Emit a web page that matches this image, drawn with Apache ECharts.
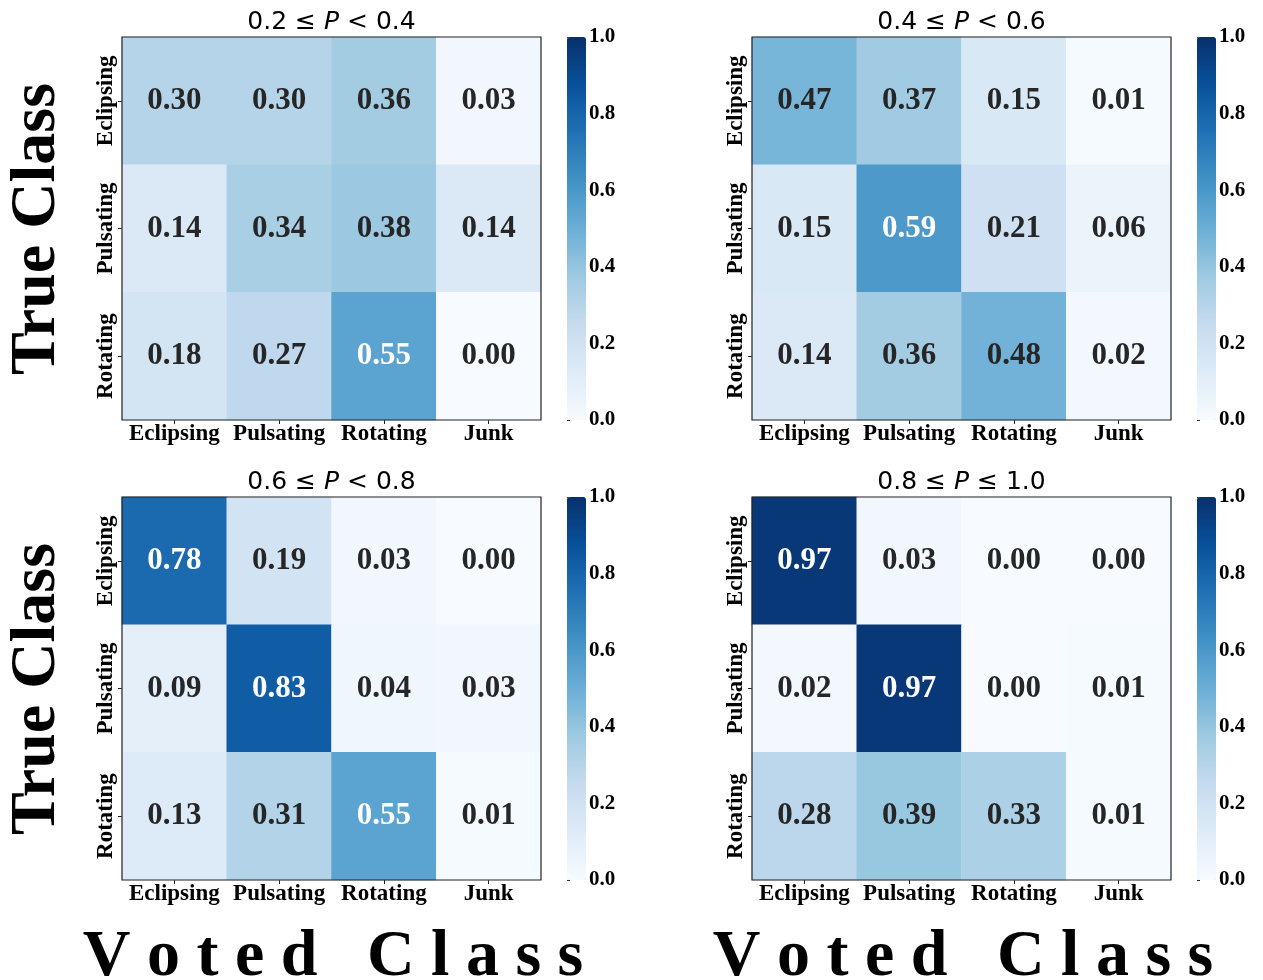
<!DOCTYPE html>
<html>
<head>
<meta charset="utf-8">
<script src="https://cdn.jsdelivr.net/npm/echarts@6/dist/echarts.min.js"></script>
<style>
html,body{margin:0;padding:0;background:#fff;}
#chart{width:1263px;height:980px;}
</style>
</head>
<body>
<div id="chart"></div>
<script>
// ---- data ----
const votedClasses = ['Eclipsing', 'Pulsating', 'Rotating', 'Junk'];
const trueClasses = ['Eclipsing', 'Pulsating', 'Rotating'];
const panelTitles = [
  ['0.2 ≤ ', 'P', ' < 0.4'],
  ['0.4 ≤ ', 'P', ' < 0.6'],
  ['0.6 ≤ ', 'P', ' < 0.8'],
  ['0.8 ≤ ', 'P', ' ≤ 1.0']
];
const matrixP02 = [
  [0.30, 0.30, 0.36, 0.03],
  [0.14, 0.34, 0.38, 0.14],
  [0.18, 0.27, 0.55, 0.00]
];
const matrixP04 = [
  [0.47, 0.37, 0.15, 0.01],
  [0.15, 0.59, 0.21, 0.06],
  [0.14, 0.36, 0.48, 0.02]
];
const matrixP06 = [
  [0.78, 0.19, 0.03, 0.00],
  [0.09, 0.83, 0.04, 0.03],
  [0.13, 0.31, 0.55, 0.01]
];
const matrixP08 = [
  [0.97, 0.03, 0.00, 0.00],
  [0.02, 0.97, 0.00, 0.01],
  [0.28, 0.39, 0.33, 0.01]
];
const colorbarTicks = [0, 0.2, 0.4, 0.6, 0.8, 1.0];

// ---- style / layout ----
const matrices = [matrixP02, matrixP04, matrixP06, matrixP08];
const BLUES = ['#f7fbff','#deebf7','#c6dbef','#9ecae1','#6baed6','#4292c6','#2171b5','#08519c','#08306b'];
const SERIF = '"Liberation Serif", "Times New Roman", serif';
const layout = [
  {left: 122, top: 37},
  {left: 752, top: 37},
  {left: 122, top: 497},
  {left: 752, top: 497}
];
const GW = 419, GH = 383;
const CB_OFF = 445, CB_W = 19;

const grid = [], xAxis = [], yAxis = [], series = [], visualMap = [], title = [];
layout.forEach((p, i) => {
  grid.push({left: p.left, top: p.top, width: GW, height: GH, show: true, z: 5, borderColor: '#222', borderWidth: 1.2, backgroundColor: 'transparent'});
  xAxis.push({
    type: 'category', gridIndex: i, data: votedClasses, position: 'bottom',
    axisLine: {show: false}, splitLine: {show: false},
    axisTick: {show: true, length: 4, alignWithLabel: true, lineStyle: {color: '#222'}},
    axisLabel: {fontFamily: SERIF, fontWeight: 'bold', fontSize: 23, color: '#000', margin: 3, interval: 0}
  });
  yAxis.push({
    type: 'category', gridIndex: i, data: trueClasses, inverse: true,
    axisLine: {show: false}, splitLine: {show: false},
    axisTick: {show: true, length: 4, alignWithLabel: true, lineStyle: {color: '#222'}},
    axisLabel: {fontFamily: SERIF, fontWeight: 'bold', fontSize: 23, color: '#000', rotate: 90, margin: 4}
  });
  const data = [];
  matrices[i].forEach((row, r) => row.forEach((v, c) => {
    data.push({value: [c, r, v], label: {color: v > 0.5 ? '#ffffff' : '#262626'}});
  }));
  series.push({
    type: 'heatmap', xAxisIndex: i, yAxisIndex: i, data: data,
    itemStyle: {borderWidth: 0},
    emphasis: {disabled: true},
    label: {show: true, fontFamily: SERIF, fontWeight: 'bold', fontSize: 31,
      formatter: (o) => o.value[2].toFixed(2)}
  });
  visualMap.push({
    type: 'continuous', min: 0, max: 1, seriesIndex: i, orient: 'vertical',
    left: p.left + CB_OFF, top: p.top, itemWidth: CB_W, itemHeight: GH, padding: 0,
    calculable: false, hoverLink: false, text: null, showLabel: false,
    inRange: {color: BLUES}
  });
  const t = panelTitles[i];
  title.push({
    text: '{a|' + t[0] + '}{i|' + t[1] + '}{a|' + t[2] + '}',
    left: p.left + GW / 2, top: p.top - 27, textAlign: 'center',
    padding: 0,
    textStyle: {fontWeight: 'normal', rich: {
      a: {fontFamily: '"DejaVu Sans", sans-serif', fontSize: 25, fontWeight: 'normal', color: '#000'},
      i: {fontFamily: '"DejaVu Sans", sans-serif', fontSize: 25, fontWeight: 'normal', fontStyle: 'italic', color: '#000'}
    }}
  });
});
// colorbar axes
layout.forEach((p, i) => {
  grid.push({left: p.left + CB_OFF, top: p.top, width: CB_W, height: GH, show: false});
  xAxis.push({type: 'value', gridIndex: 4 + i, show: false, min: 0, max: 1});
  yAxis.push({
    type: 'value', gridIndex: 4 + i, position: 'right', min: 0, max: 1, interval: 0.2,
    axisLine: {show: false}, splitLine: {show: false},
    axisTick: {show: true, length: 3, lineStyle: {color: '#333'}},
    axisLabel: {fontFamily: SERIF, fontWeight: 'bold', fontSize: 21, color: '#000', margin: 3,
      customValues: colorbarTicks, formatter: (v) => v.toFixed(1)}
  });
});

const bigFont = 'bold 64px ' + SERIF;
const votedFont = 'bold 66px ' + SERIF;
const graphic = [
  {type: 'text', x: 37, y: 229, rotation: Math.PI / 2, style: {text: 'True Class', font: bigFont, fill: '#000', align: 'center', verticalAlign: 'middle'}},
  {type: 'text', x: 37, y: 689, rotation: Math.PI / 2, style: {text: 'True Class', font: bigFont, fill: '#000', align: 'center', verticalAlign: 'middle'}},
  {type: 'text', x: 333, y: 958, style: {text: 'V o t e d   C l a s s', font: votedFont, fill: '#000', align: 'center', verticalAlign: 'middle'}},
  {type: 'text', x: 963, y: 958, style: {text: 'V o t e d   C l a s s', font: votedFont, fill: '#000', align: 'center', verticalAlign: 'middle'}}
];

const chart = echarts.init(document.getElementById('chart'), null, {renderer: 'canvas'});
chart.setOption({
  animation: false,
  backgroundColor: '#fff',
  title, grid, xAxis, yAxis, series, visualMap, graphic,
  tooltip: {show: false}
});
</script>
</body>
</html>
